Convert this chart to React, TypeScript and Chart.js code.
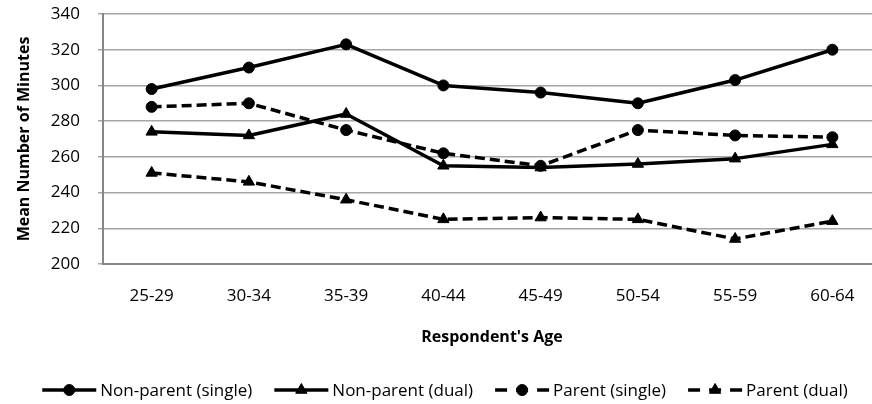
import React, { useEffect, useRef } from "react";
import { Chart, registerables } from "chart.js";
import { drawPoint } from "chart.js/helpers";

Chart.register(...registerables);

const ages = ["25-29", "30-34", "35-39", "40-44", "45-49", "50-54", "55-59", "60-64"];
const nonParentSingle = [298, 310, 323, 300, 296, 290, 303, 320];
const nonParentDual = [274, 272, 284, 255, 254, 256, 259, 267];
const parentSingle = [288, 290, 275, 262, 255, 275, 272, 271];
const parentDual = [251, 246, 236, 225, 226, 225, 214, 224];
const yTicks = [200, 220, 240, 260, 280, 300, 320, 340];

const FONT = '"Open Sans", "Liberation Sans", sans-serif';

const legendPlugin = {
  id: "customLegend",
  afterDraw(chart: any) {
    const ctx = chart.ctx as CanvasRenderingContext2D;
    ctx.save();
    ctx.font = `17px ${FONT}`;
    ctx.textBaseline = "middle";
    ctx.textAlign = "left";
    const sampleW = 54;
    const gapText = 4;
    const gapItem = 22;
    const dsets = chart.data.datasets;
    const widths = dsets.map((ds: any) => sampleW + gapText + ctx.measureText(ds.label).width);
    const total = widths.reduce((a: number, b: number) => a + b, 0) + gapItem * (dsets.length - 1);
    let x = chart.width / 2 - total / 2;
    const y = 390;
    dsets.forEach((ds: any, i: number) => {
      ctx.strokeStyle = "#000";
      ctx.fillStyle = "#000";
      ctx.lineWidth = ds.borderWidth;
      ctx.setLineDash(ds.borderDash && ds.borderDash.length ? [12, 9] : []);
      ctx.beginPath();
      ctx.moveTo(x, y);
      ctx.lineTo(x + sampleW, y);
      ctx.stroke();
      ctx.setLineDash([]);
      ctx.lineWidth = 1;
      drawPoint(ctx, { pointStyle: ds.pointStyle, radius: ds.pointRadius, rotation: 0, borderWidth: 1 } as any, x + sampleW / 2, y);
      ctx.fillStyle = "#000";
      ctx.fillText(ds.label, x + sampleW + gapText, y + 1);
      x += widths[i] + gapItem;
    });
    ctx.restore();
  },
};

export default function App() {
  const ref = useRef<HTMLCanvasElement | null>(null);

  useEffect(() => {
    if (!ref.current) return;
    const mk = (label: string, data: number[], style: string, dashed: boolean) => ({
      label,
      data,
      borderColor: "#000",
      backgroundColor: "#000",
      borderWidth: 3.5,
      borderDash: dashed ? [10, 5] : [],
      borderJoinStyle: "round",
      pointStyle: style,
      pointRadius: style === "triangle" ? 6.5 : 5.5,
      pointBackgroundColor: "#000",
      pointBorderColor: "#000",
      pointBorderWidth: 1,
      tension: 0,
      fill: false,
    });
    const chart = new Chart(ref.current, {
      type: "line",
      data: {
        labels: ages,
        datasets: [
          mk("Non-parent (single)", nonParentSingle, "circle", false),
          mk("Non-parent (dual)", nonParentDual, "triangle", false),
          mk("Parent (single)", parentSingle, "circle", true),
          mk("Parent (dual)", parentDual, "triangle", true),
        ] as any,
      },
      options: {
        responsive: false,
        animation: false,
        layout: { padding: { top: 14, right: 9, bottom: 50, left: 0 } },
        plugins: {
          legend: { display: false },
          tooltip: { enabled: false },
        },
        scales: {
          x: {
            offset: true,
            grid: { display: false, drawTicks: false },
            border: { display: true, color: "#868686", width: 2 },
            ticks: { color: "#000", padding: 22, font: { family: FONT, size: 17 } },
            title: {
              display: true,
              text: "Respondent's Age",
              color: "#000",
              font: { family: FONT, size: 16, weight: "bold" },
              padding: { top: 0, bottom: 7 },
            },
            afterFit: (scale: any) => {
              scale.height = 90;
              scale.paddingLeft = 0;
              scale.paddingRight = 0;
            },
          },
          y: {
            min: 200,
            max: 340,
            afterBuildTicks: (scale: any) => {
              scale.ticks = yTicks.map((v) => ({ value: v }));
            },
            grid: { color: "#a6a6a6", lineWidth: 1.5, tickLength: 5, drawTicks: true },
            border: { display: true, color: "#868686", width: 2 },
            ticks: { color: "#000", padding: 18, font: { family: FONT, size: 17 } },
            title: {
              display: true,
              text: "Mean Number of Minutes",
              color: "#000",
              font: { family: FONT, size: 16, weight: "bold" },
              padding: { top: 15, bottom: 0 },
            },
            afterFit: (scale: any) => {
              scale.width = 103;
              scale.paddingTop = 0;
              scale.paddingBottom = 0;
            },
          },
        },
      } as any,
      plugins: [legendPlugin],
    });
    return () => chart.destroy();
  }, []);

  return (
    <div
      style={{
        position: "fixed",
        left: 0,
        top: 0,
        width: 872,
        height: 404,
        overflow: "hidden",
        background: "#fff",
      }}
    >
      <canvas ref={ref} width={890} height={404} style={{ display: "block" }} />
    </div>
  );
}
